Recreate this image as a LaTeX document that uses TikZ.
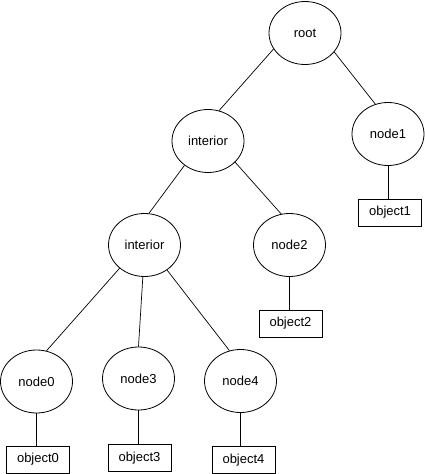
\documentclass[tikz,border=0pt]{standalone}
\usepackage{fontspec}
\setmainfont{Liberation Sans}
\usetikzlibrary{shapes.geometric}
\begin{document}
\begin{tikzpicture}[x=1pt,y=-1pt,
  every node/.style={font=\fontsize{13}{15}\selectfont, line width=0.8pt},
  ell/.style={draw, ellipse, minimum width=72pt, minimum height=63pt, inner sep=0pt},
  obj/.style={draw, rectangle, minimum width=63pt, minimum height=27pt, inner sep=0pt},
  edge/.style={line width=0.7pt}]
\useasboundingbox (0,0) rectangle (425,474);
\node[ell] (root) at (305,33) {root};
\node[ell] (n1) at (388,134) {node1};
\node[obj] (o1) at (390,212.5) {object1};
\node[ell] (i1) at (208,141) {interior};
\node[ell] (i2) at (144.5,245) {interior};
\node[ell] (n2) at (289.5,245) {node2};
\node[obj] (o2) at (290.5,323.5) {object2};
\node[ell] (n0) at (36.5,381.5) {node0};
\node[ell] (n3) at (138.5,378.5) {node3};
\node[ell] (n4) at (240.5,381) {node4};
\node[obj] (o0) at (38,459.5) {object0};
\node[obj] (o3) at (139.5,458) {object3};
\node[obj] (o4) at (243.5,460) {object4};
\draw[edge] (root.207) -- (i1.70);
\draw[edge] (root.-33) -- (n1.113);
\draw[edge] (i1.-134) -- (i2.82);
\draw[edge] (i1.-38) -- (n2.105);
\draw[edge] (i2.-137) -- (n0.72);
\draw[edge] (i2.-93) -- (n3.90);
\draw[edge] (i2.-48) -- (n4.110);
\draw[edge] (n1.south) -- (n1.south |- o1.north);
\draw[edge] (n2.south) -- (n2.south |- o2.north);
\draw[edge] (n0.south) -- (n0.south |- o0.north);
\draw[edge] (n3.south) -- (n3.south |- o3.north);
\draw[edge] (n4.south) -- (n4.south |- o4.north);
\end{tikzpicture}
\end{document}
